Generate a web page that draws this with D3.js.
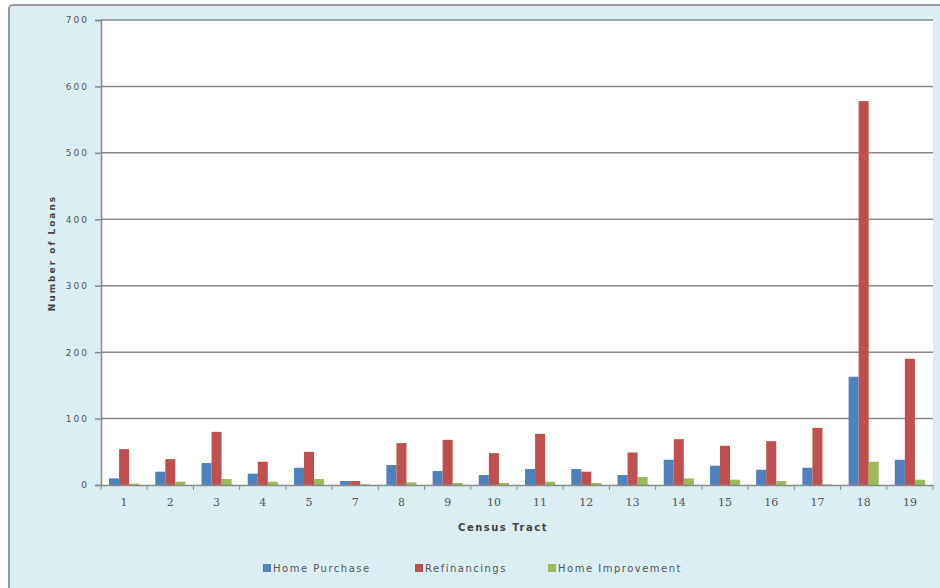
<!DOCTYPE html>
<html><head><meta charset="utf-8">
<script src="https://cdn.jsdelivr.net/npm/d3@7"></script>
<style>body{margin:0;background:#fff}svg{display:block}</style>
</head><body>
<svg id="chart" width="940" height="588"></svg>
<script>
const categories = ["1","2","3","4","5","7","8","9","10","11","12","13","14","15","16","17","18","19"];
const seriesNames = ["Home Purchase","Refinancings","Home Improvement"];
const homePurchase = [10,20,33,17,26,6,30,21,15,24,24,15,38,29,23,26,163,38];
const refinancings = [54,39,80,35,50,6,63,68,48,77,20,49,69,59,66,86,578,190];
const homeImprovement = [2,5,9,5,9,1,4,3,3,5,3,12,10,8,6,1,35,8];
const yTicks = [0,100,200,300,400,500,600,700];
const colors = ["#4f81bd","#c0504d","#9bbb59"];

const svg = d3.select("#chart");
// outer background
svg.append("rect").attr("x",9).attr("y",5).attr("width",940).attr("height",600)
  .attr("rx",4).attr("fill","#dbeef4").attr("stroke","#9a9a9a").attr("stroke-width",2);

const m = {l:101, r:933, t:20, b:485};
svg.append("rect").attr("x",m.l).attr("y",m.t).attr("width",m.r-m.l).attr("height",m.b-m.t).attr("fill","#fff");

const x = d3.scaleBand().domain(categories).range([m.l,m.r]).paddingInner(0).paddingOuter(0);
const y = d3.scaleLinear().domain([0,700]).range([m.b,m.t]);
const xs = d3.scaleBand().domain(seriesNames).range([0,x.bandwidth()]).paddingInner(0).paddingOuter(0.8);

// gridlines
svg.append("g").selectAll("line").data(yTicks.filter(d=>d>0)).join("line")
  .attr("x1",m.l).attr("x2",m.r).attr("y1",d=>y(d)).attr("y2",d=>y(d))
  .attr("stroke","#8a8a8a").attr("stroke-width",1.5);

const data = categories.map((c,i)=>({c, vals:[homePurchase[i],refinancings[i],homeImprovement[i]]}));
svg.append("g").selectAll("g").data(data).join("g")
  .attr("transform",d=>`translate(${x(d.c)},0)`)
  .selectAll("rect").data(d=>d.vals.map((v,j)=>({v,j}))).join("rect")
  .attr("x",d=>xs(seriesNames[d.j])).attr("width",xs.bandwidth())
  .attr("y",d=>y(d.v)).attr("height",d=>y(0)-y(d.v))
  .attr("fill",d=>colors[d.j]);

// y axis
const yAxis = svg.append("g").attr("transform",`translate(${m.l},0)`)
  .call(d3.axisLeft(y).tickValues(yTicks).tickSize(6).tickPadding(6).tickFormat(d3.format("d")));
yAxis.select(".domain").attr("stroke","#8a8a8a").attr("stroke-width",1.5);
yAxis.selectAll(".tick line").attr("stroke","#8a8a8a").attr("stroke-width",1.5);
yAxis.selectAll("text").attr("fill","#555").style("font-family","DejaVu Sans").style("font-size","9px").style("letter-spacing","2px");

// x axis
const xAxis = svg.append("g").attr("transform",`translate(0,${m.b})`)
  .call(d3.axisBottom(x).tickSize(0).tickPadding(13));
xAxis.select(".domain").attr("stroke","#8a8a8a").attr("stroke-width",1.5);
xAxis.selectAll("text").attr("fill","#555").style("font-family","DejaVu Serif").style("font-size","11px");
svg.append("g").selectAll("line").data(d3.range(categories.length+1)).join("line")
  .attr("x1",i=>m.l+i*x.bandwidth()).attr("x2",i=>m.l+i*x.bandwidth())
  .attr("y1",m.b).attr("y2",m.b+5).attr("stroke","#8a8a8a").attr("stroke-width",1);

// axis titles
svg.append("text").attr("x",503).attr("y",531).attr("text-anchor","middle")
  .attr("fill","#444").style("font-family","DejaVu Sans").style("font-size","10px").style("font-weight","bold")
  .style("letter-spacing","1.5px").text("Census Tract");
svg.append("text").attr("transform","translate(55,253) rotate(-90)").attr("text-anchor","middle")
  .attr("fill","#444").style("font-family","DejaVu Sans").style("font-size","9px").style("font-weight","bold")
  .style("letter-spacing","2px").text("Number of Loans");

// legend
const legX = [263,415,548];
const leg = svg.append("g").selectAll("g").data(seriesNames).join("g")
  .attr("transform",(d,i)=>`translate(${legX[i]},568)`);
leg.append("rect").attr("x",0).attr("y",-4).attr("width",8).attr("height",8).attr("fill",(d,i)=>colors[i]);
leg.append("text").attr("x",10).attr("y",4).attr("fill","#555")
  .style("font-family","DejaVu Sans").style("font-size","10px").style("letter-spacing","1.5px").text(d=>d);
</script>
</body></html>
